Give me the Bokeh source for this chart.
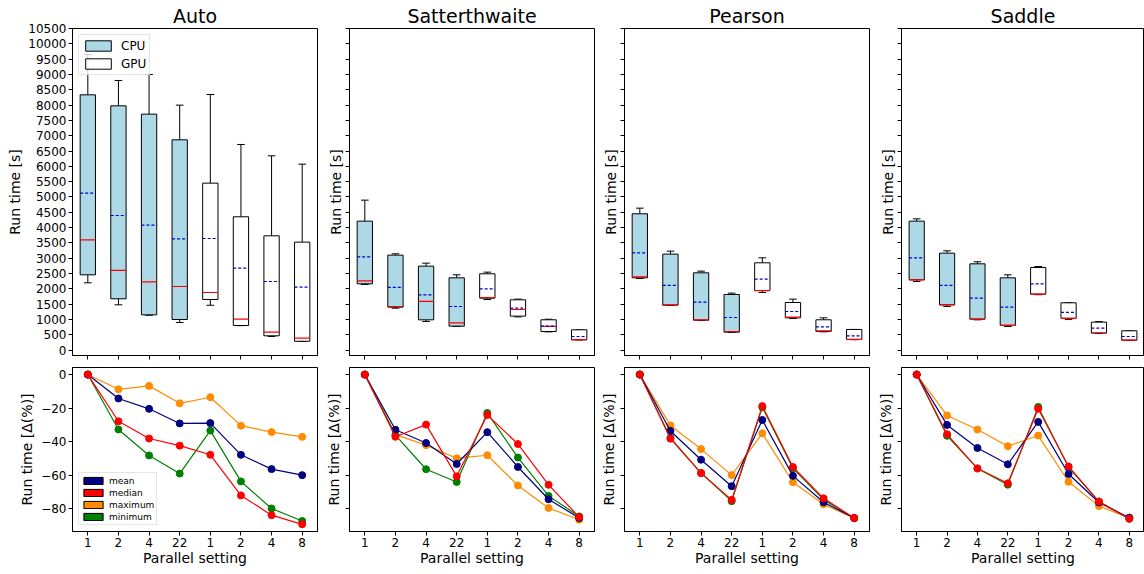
from bokeh.plotting import figure
from bokeh.models import ColumnDataSource, FixedTicker, Range1d, Legend, LegendItem
from bokeh.layouts import row, column
from bokeh.embed import file_html
from bokeh.resources import INLINE

FONT = "DejaVu Sans"

methods = ["Auto", "Satterthwaite", "Pearson", "Saddle"]
settings = ["1", "2", "4", "22", "1", "2", "4", "8"]
devices = ["CPU", "CPU", "CPU", "CPU", "GPU", "GPU", "GPU", "GPU"]

# ---- Run time [s] box statistics ----
auto_min = [2198, 1480, 1140, 903, 1465, 800, 446, 283]
auto_q1 = [2459, 1676, 1153, 1001, 1654, 805, 468, 290]
auto_median = [3602, 2601, 2231, 2078, 1882, 1012, 588, 392]
auto_mean = [5125, 4396, 4080, 3634, 3645, 2677, 2241, 2057]
auto_q3 = [8335, 7976, 7704, 6866, 5452, 4353, 3732, 3526]
auto_max = [9650, 8803, 9000, 7998, 8346, 6714, 6344, 6072]

satt_min = [2144, 1371, 936, 773, 1654, 1085, 596, 334]
satt_q1 = [2165, 1404, 990, 783, 1697, 1110, 609, 337]
satt_median = [2263, 1425, 1589, 892, 1719, 1327, 778, 344]
satt_mean = [3047, 2046, 1806, 1425, 2002, 1371, 786, 445]
satt_q3 = [4211, 3101, 2742, 2361, 2492, 1643, 991, 664]
satt_max = [4897, 3145, 2840, 2459, 2546, 1665, 1009, 664]

pear_min = [2339, 1458, 968, 577, 1882, 1034, 598, 340]
pear_q1 = [2361, 1469, 979, 588, 1948, 1055, 609, 348]
pear_median = [2394, 1480, 990, 609, 1945, 1077, 631, 350]
pear_mean = [3177, 2111, 1567, 1066, 2318, 1262, 762, 465]
pear_q3 = [4451, 3134, 2524, 1817, 2851, 1556, 991, 675]
pear_max = [4635, 3232, 2579, 1861, 3014, 1665, 1055, 675]

sadd_min = [2242, 1425, 990, 773, 1810, 1004, 547, 318]
sadd_q1 = [2296, 1480, 1012, 810, 1828, 1040, 560, 326]
sadd_median = [2296, 1480, 1012, 810, 1828, 1040, 560, 326]
sadd_mean = [3014, 2111, 1697, 1404, 2165, 1230, 718, 446]
sadd_q3 = [4211, 3166, 2818, 2361, 2699, 1545, 914, 631]
sadd_max = [4287, 3243, 2884, 2459, 2731, 1552, 930, 631]

stats = {
    "Auto": dict(min=auto_min, q1=auto_q1, median=auto_median, mean=auto_mean, q3=auto_q3, max=auto_max),
    "Satterthwaite": dict(min=satt_min, q1=satt_q1, median=satt_median, mean=satt_mean, q3=satt_q3, max=satt_max),
    "Pearson": dict(min=pear_min, q1=pear_q1, median=pear_median, mean=pear_mean, q3=pear_q3, max=pear_max),
    "Saddle": dict(min=sadd_min, q1=sadd_q1, median=sadd_median, mean=sadd_mean, q3=sadd_q3, max=sadd_max),
}

line_series = [("maximum", "max", "darkorange"), ("minimum", "min", "green"),
               ("mean", "mean", "navy"), ("median", "median", "red")]
legend_order = [("mean", "navy"), ("median", "red"), ("maximum", "darkorange"), ("minimum", "green")]

pos = list(range(1, len(settings) + 1))
BOX_W = 0.5
CAP_W = 0.25
MEAN_COLOR = "#0000cd"

widths = [319, 277, 277, 271]
left_b = [72, 30, 28, 28]
right_b = [2, 2, 4, 0]


def pct(vals):
    return [(v / vals[0] - 1.0) * 100.0 for v in vals]


def style(p):
    p.outline_line_color = "black"
    p.outline_line_width = 1
    p.outline_line_alpha = 1
    p.xgrid.visible = False
    p.ygrid.visible = False
    p.background_fill_color = "white"
    p.border_fill_color = "white"
    for ax in list(p.xaxis) + list(p.yaxis):
        ax.axis_line_color = "black"
        ax.major_tick_line_color = "black"
        ax.major_tick_in = 0
        ax.major_tick_out = 4
        ax.minor_tick_line_color = None
        ax.major_label_text_font = FONT
        ax.major_label_text_font_size = "12px"
        ax.major_label_text_color = "black"
        ax.axis_label_text_font = FONT
        ax.axis_label_text_font_size = "14px"
        ax.axis_label_text_font_style = "normal"
        ax.axis_label_text_color = "black"
        ax.major_label_standoff = 2


def hide_labels(ax):
    ax.major_label_text_color = None
    ax.major_label_text_font_size = "1px"
    ax.major_label_standoff = 0


tops, bots = [], []
for i, name in enumerate(methods):
    s = stats[name]
    first = i == 0

    # ---------------- top: box plots ----------------
    p = figure(width=widths[i], height=363, x_range=Range1d(0.5, 8.5), y_range=Range1d(-175, 10500),
               output_backend="svg", toolbar_location=None, title=name,
               min_border_left=left_b[i], min_border_right=right_b[i], min_border_top=28, min_border_bottom=8)
    style(p)
    p.title.text_font = FONT
    p.title.text_font_size = "19px"
    p.title.text_font_style = "normal"
    p.title.text_color = "black"
    p.title.align = "center"
    p.title.standoff = 3

    data = dict(x=pos, dev=devices,
                bl=[x - BOX_W / 2 for x in pos], br=[x + BOX_W / 2 for x in pos],
                cl=[x - CAP_W / 2 for x in pos], cr=[x + CAP_W / 2 for x in pos])
    data.update({k: v for k, v in s.items()})
    src = ColumnDataSource(data)
    cpu_src = ColumnDataSource({k: v[:4] for k, v in data.items()})
    gpu_src = ColumnDataSource({k: v[4:] for k, v in data.items()})

    p.segment(x0="x", y0="q3", x1="x", y1="max", source=src, line_color="black", line_width=1)
    p.segment(x0="x", y0="q1", x1="x", y1="min", source=src, line_color="black", line_width=1)
    p.segment(x0="cl", y0="max", x1="cr", y1="max", source=src, line_color="black", line_width=1)
    p.segment(x0="cl", y0="min", x1="cr", y1="min", source=src, line_color="black", line_width=1)
    r_cpu = p.vbar(x="x", width=BOX_W, bottom="q1", top="q3", source=cpu_src,
                   fill_color="lightblue", line_color="black", line_width=1)
    r_gpu = p.vbar(x="x", width=BOX_W, bottom="q1", top="q3", source=gpu_src,
                   fill_color="white", line_color="black", line_width=1)
    p.segment(x0="bl", y0="median", x1="br", y1="median", source=src, line_color="red", line_width=1.2)
    p.segment(x0="bl", y0="mean", x1="br", y1="mean", source=src, line_color=MEAN_COLOR,
              line_width=1.2, line_dash="3 2")

    p.xaxis.ticker = FixedTicker(ticks=pos)
    hide_labels(p.xaxis[0])
    p.yaxis.ticker = FixedTicker(ticks=list(range(0, 10501, 500)))
    p.yaxis.axis_label = "Run time [s]"
    if first:
        p.yaxis.axis_label_standoff = 2
        leg = Legend(items=[LegendItem(label="CPU", renderers=[r_cpu]),
                            LegendItem(label="GPU", renderers=[r_gpu])],
                     location="top_left")
        leg.margin = 6
        leg.padding = 3
        leg.spacing = 3
        leg.glyph_width = 32
        leg.glyph_height = 13
        leg.label_height = 15
        leg.label_standoff = 7
        leg.label_text_font = FONT
        leg.label_text_font_size = "12px"
        leg.label_text_color = "black"
        leg.border_line_color = "#cccccc"
        leg.border_line_width = 1
        leg.background_fill_alpha = 0.8
        p.add_layout(leg)
    else:
        hide_labels(p.yaxis[0])
        p.yaxis.axis_label_standoff = 2
    tops.append(p)

    # ---------------- bottom: relative change ----------------
    q = figure(width=widths[i], height=211, x_range=Range1d(0.5, 8.5), y_range=Range1d(-93.4, 4.2),
               output_backend="svg", toolbar_location=None,
               min_border_left=left_b[i], min_border_right=right_b[i], min_border_top=4, min_border_bottom=43)
    style(q)
    for label, key, color in line_series:
        ys = pct(s[key])
        lsrc = ColumnDataSource(dict(x=pos, y=ys))
        q.line(x="x", y="y", source=lsrc, line_color=color, line_width=1.2)
        q.scatter(x="x", y="y", source=lsrc, size=7, fill_color=color, line_color=color)

    q.xaxis.ticker = FixedTicker(ticks=pos)
    q.xaxis.major_label_overrides = {x: settings[k] for k, x in enumerate(pos)}
    q.xaxis.major_label_standoff = 2
    q.xaxis.axis_label = "Parallel setting"
    q.xaxis.axis_label_standoff = 0
    q.yaxis.ticker = FixedTicker(ticks=[-80, -60, -40, -20, 0])
    q.yaxis.major_label_overrides = {-80: "\u221280", -60: "\u221260", -40: "\u221240", -20: "\u221220", 0: "0"}
    q.yaxis.axis_label = "Run time [\u0394(%)]"
    if first:
        q.yaxis.axis_label_standoff = 3
        items = []
        nan = float("nan")
        for label, color in legend_order:
            r = q.vbar(x=[nan], top=[nan], bottom=[nan], width=0.5,
                       fill_color=color, line_color="black", line_width=1)
            items.append(LegendItem(label=label, renderers=[r]))
        leg2 = Legend(items=items, location="bottom_left")
        leg2.margin = 6
        leg2.padding = 2
        leg2.spacing = 1
        leg2.glyph_width = 24
        leg2.glyph_height = 9
        leg2.label_height = 11
        leg2.label_standoff = 4
        leg2.label_text_font = FONT
        leg2.label_text_font_size = "9px"
        leg2.label_text_color = "black"
        leg2.border_line_color = "#cccccc"
        leg2.border_line_width = 1
        leg2.background_fill_alpha = 0.8
        q.add_layout(leg2)
    else:
        hide_labels(q.yaxis[0])
        q.yaxis.axis_label_standoff = 4
    bots.append(q)

layout = column(row(*tops), row(*bots))
open("out.html", "w").write(file_html(layout, INLINE))
